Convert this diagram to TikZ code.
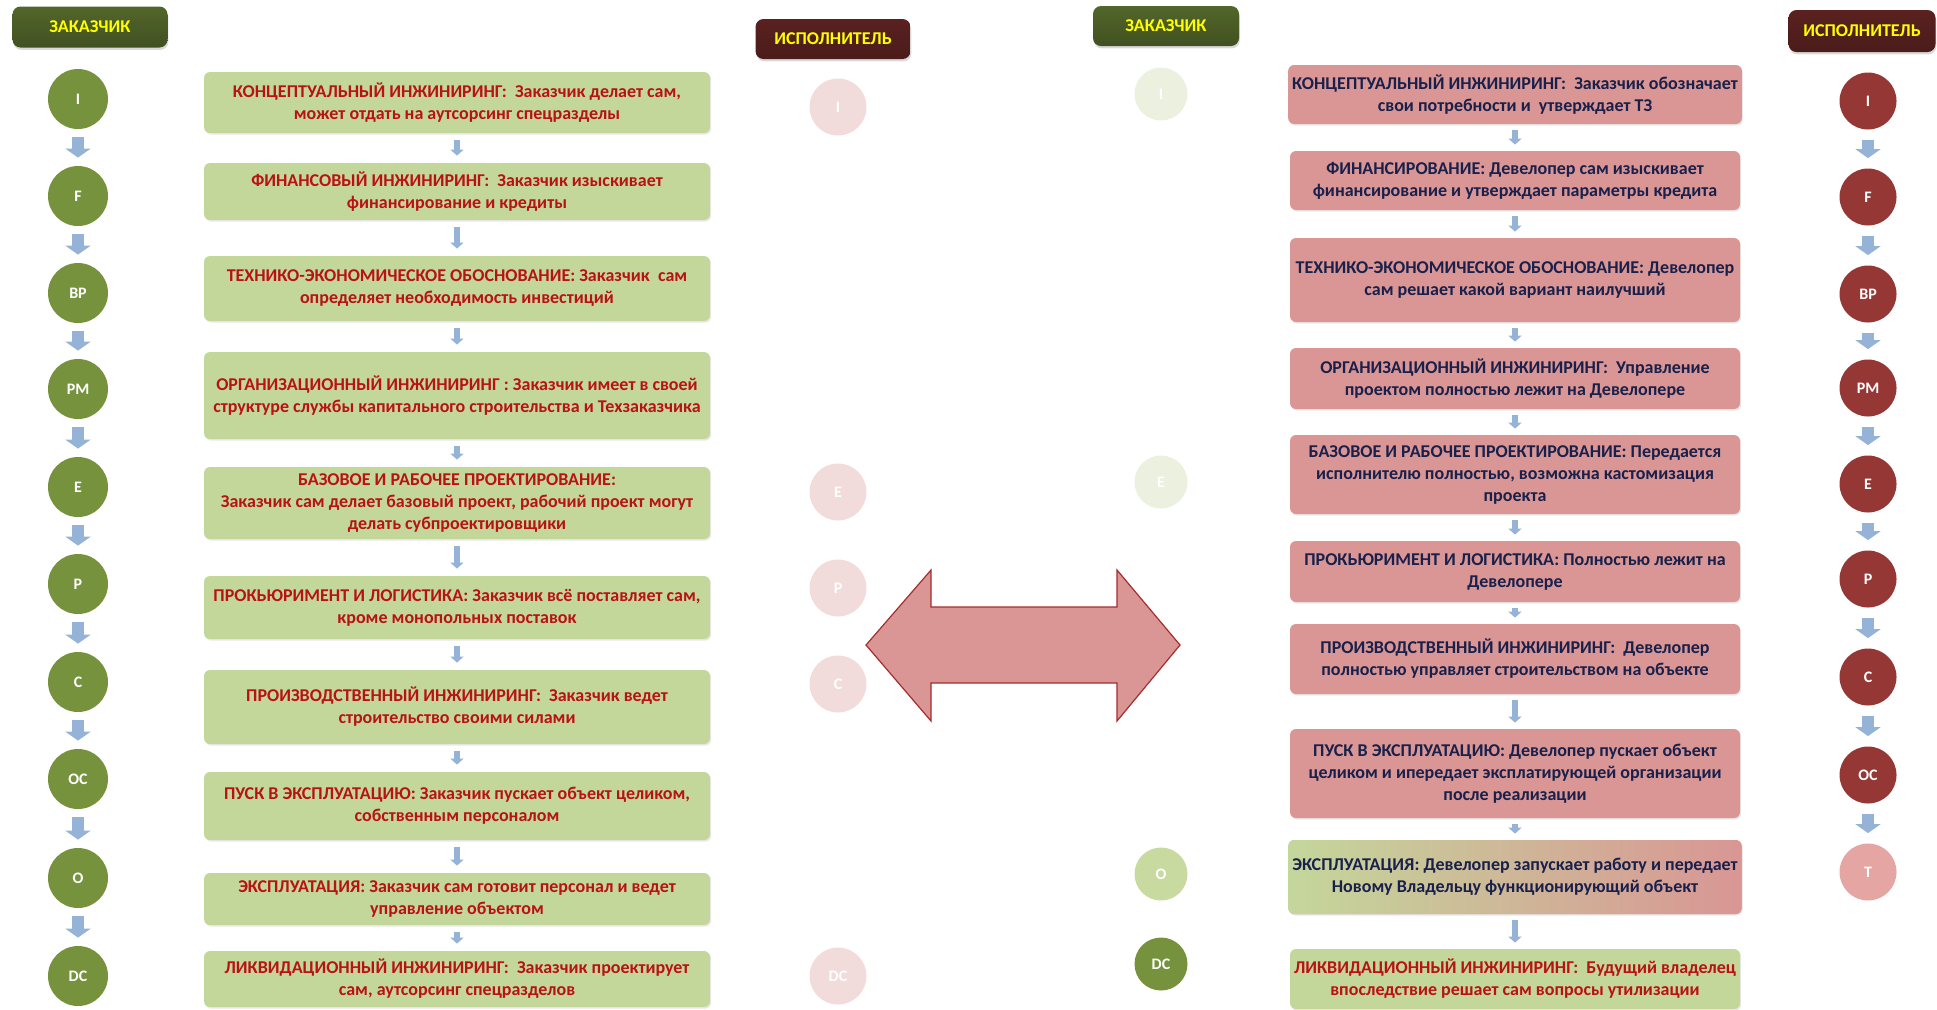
\documentclass[tikz,border=0pt]{standalone}
\usepackage{fontspec}
\setmainfont{Carlito}
\usetikzlibrary{arrows.meta,shadows}

\definecolor{boxgreen}{RGB}{196,215,155}
\definecolor{boxpink}{RGB}{217,150,148}
\definecolor{txtred}{RGB}{185,18,18}
\definecolor{txtnavy}{RGB}{25,32,75}
\definecolor{dotgreen}{RGB}{118,146,60}
\definecolor{dotred}{RGB}{149,55,53}
\definecolor{fadegreen}{RGB}{235,241,222}
\definecolor{fadepink}{RGB}{242,220,219}
\definecolor{softgreen}{RGB}{200,218,160}
\definecolor{softpink}{RGB}{229,165,163}
\definecolor{flowblue}{RGB}{149,179,215}
\definecolor{hdryellow}{RGB}{255,255,0}
\definecolor{arrowedge}{RGB}{165,45,45}

\begin{document}
\begin{tikzpicture}[x=0.5pt, y=-0.5pt, every node/.style={align=center},
  hdr/.style={rounded corners=4pt, text=hdryellow, font=\bfseries\fontsize{9}{11}\selectfont,
    drop shadow={opacity=0.3, shadow xshift=0.4pt, shadow yshift=-1.2pt}},
  hdrgreen/.style={hdr, top color=dotgreen!70!black, middle color=dotgreen, bottom color=dotgreen!55!black},
  hdrred/.style={hdr, top color=dotred!60!black, middle color=dotred!90!black, bottom color=dotred!50!black},
  dot/.style={circle, minimum size=30pt, inner sep=0pt, text=white, font=\bfseries\fontsize{8}{8}\selectfont},
  lbox/.style={rounded corners=3pt, fill=boxgreen, text=txtred, minimum width=253pt, inner sep=2pt,
    font=\bfseries\fontsize{9}{11}\selectfont, drop shadow={opacity=0.18, shadow xshift=0.6pt, shadow yshift=-0.8pt}},
  rbox/.style={lbox, fill=boxpink, text=txtnavy, minimum width=225pt},
  flow/.style={flowblue, line width=6pt, -{Triangle[width=12.5pt,length=4.5pt]}, shorten <=4pt, shorten >=4pt},
  link/.style={flowblue, line width=3pt, -{Triangle[width=6.5pt,length=3pt]}, shorten <=3.5pt, shorten >=3.5pt},
  bigarrow/.style={fill=boxpink, draw=arrowedge, line width=0.6pt}]
  \useasboundingbox (0,0) rectangle (1937,1009);

  % Headers
  \node[hdrgreen, minimum width=77.5pt, minimum height=20.5pt] (zakL) at (90,27) {ЗАКАЗЧИК};
  \node[hdrred, minimum width=77.5pt, minimum height=20pt] (ispL) at (833,39) {ИСПОЛНИТЕЛЬ};
  \node[hdrgreen, minimum width=73pt, minimum height=20pt] (zakR) at (1166,26) {ЗАКАЗЧИК};
  \node[hdrred, minimum width=73.5pt, minimum height=21pt] (ispR) at (1862,31) {ИСПОЛНИТЕЛЬ};

  % Left: customer stages
  \node[dot, fill=dotgreen] (lI) at (78,99) {I};
  \node[dot, fill=dotgreen] (lF) at (78,196) {F};
  \node[dot, fill=dotgreen] (lBP) at (78,293) {BP};
  \node[dot, fill=dotgreen] (lPM) at (78,389) {PM};
  \node[dot, fill=dotgreen] (lE) at (78,487) {E};
  \node[dot, fill=dotgreen] (lP) at (78,584) {P};
  \node[dot, fill=dotgreen] (lC) at (78,682) {C};
  \node[dot, fill=dotgreen] (lOC) at (78,779) {OC};
  \node[dot, fill=dotgreen] (lO) at (78,878) {O};
  \node[dot, fill=dotgreen] (lDC) at (78,976) {DC};

  % Left: faded contractor stages
  \node[dot, minimum size=28.5pt, fill=fadepink] (liI) at (838,107) {I};
  \node[dot, minimum size=28.5pt, fill=fadepink] (liE) at (838,492) {E};
  \node[dot, minimum size=28.5pt, fill=fadepink] (liP) at (838,588) {P};
  \node[dot, minimum size=28.5pt, fill=fadepink] (liC) at (838,684) {C};
  \node[dot, minimum size=28.5pt, fill=fadepink] (liDC) at (838,976) {DC};

  % Left boxes
  \node[lbox, minimum height=30.5pt] (lb1) at (457,102.5) {КОНЦЕПТУАЛЬНЫЙ ИНЖИНИРИНГ:~ Заказчик делает сам,\\может отдать на аутсорсинг спецразделы};
  \node[lbox, minimum height=28.5pt] (lb2) at (457,191.5) {ФИНАНСОВЫЙ ИНЖИНИРИНГ:~ Заказчик изыскивает\\финансирование и кредиты};
  \node[lbox, minimum height=32.5pt] (lb3) at (457,288.5) {ТЕХНИКО-ЭКОНОМИЧЕСКОЕ ОБОСНОВАНИЕ: Заказчик~ сам\\определяет необходимость инвестиций};
  \node[lbox, minimum height=43.5pt] (lb4) at (457,395.5) {ОРГАНИЗАЦИОННЫЙ ИНЖИНИРИНГ : Заказчик имеет в своей\\структуре службы капитального строительства и Техзаказчика};
  \node[lbox, minimum height=36pt] (lb5) at (457,503) {БАЗОВОЕ И РАБОЧЕЕ ПРОЕКТИРОВАНИЕ:\\Заказчик сам делает базовый проект, рабочий проект могут\\делать субпроектировщики};
  \node[lbox, minimum height=31.5pt] (lb6) at (457,607.5) {ПРОКЬЮРИМЕНТ И ЛОГИСТИКА: Заказчик всё поставляет сам,\\кроме монопольных поставок};
  \node[lbox, minimum height=37pt] (lb7) at (457,707) {ПРОИЗВОДСТВЕННЫЙ ИНЖИНИРИНГ:~ Заказчик ведет\\строительство своими силами};
  \node[lbox, minimum height=34pt] (lb8) at (457,806) {ПУСК В ЭКСПЛУАТАЦИЮ: Заказчик пускает объект целиком,\\собственным персоналом};
  \node[lbox, minimum height=26pt] (lb9) at (457,899) {ЭКСПЛУАТАЦИЯ: Заказчик сам готовит персонал и ведет\\управление объектом};
  \node[lbox, minimum height=28pt] (lb10) at (457,979) {ЛИКВИДАЦИОННЫЙ ИНЖИНИРИНГ:~ Заказчик проектирует\\сам, аутсорсинг спецразделов};

  % Swap arrow
  \draw[bigarrow] (866,645) -- (931,570) -- (931,607) -- (1117,607) -- (1117,570) -- (1180,645)
    -- (1117,721) -- (1117,683) -- (931,683) -- (931,721) -- cycle;

  % Right: faded customer stages
  \node[dot, minimum size=26.5pt, fill=fadegreen] (rzI) at (1161,94) {I};
  \node[dot, minimum size=26.5pt, fill=fadegreen] (rzE) at (1161,482) {E};
  \node[dot, minimum size=26.5pt, fill=softgreen] (rzO) at (1161,874) {O};
  \node[dot, minimum size=26.5pt, fill=dotgreen] (rzDC) at (1161,964) {DC};

  % Right: contractor stages
  \node[dot, minimum size=28.5pt, fill=dotred] (rI) at (1868,101) {I};
  \node[dot, minimum size=28.5pt, fill=dotred] (rF) at (1868,197) {F};
  \node[dot, minimum size=28.5pt, fill=dotred] (rBP) at (1868,294) {BP};
  \node[dot, minimum size=28.5pt, fill=dotred] (rPM) at (1868,388) {PM};
  \node[dot, minimum size=28.5pt, fill=dotred] (rE) at (1868,484) {E};
  \node[dot, minimum size=28.5pt, fill=dotred] (rP) at (1868,579) {P};
  \node[dot, minimum size=28.5pt, fill=dotred] (rC) at (1868,677) {C};
  \node[dot, minimum size=28.5pt, fill=dotred] (rOC) at (1868,775) {OC};
  \node[dot, minimum size=28.5pt, fill=softpink] (rT) at (1868,872) {T};

  % Right boxes
  \node[rbox, minimum height=29.5pt] (rb1) at (1515,94.5) {КОНЦЕПТУАЛЬНЫЙ ИНЖИНИРИНГ:~ Заказчик обозначает\\свои потребности и~ утверждает ТЗ};
  \node[rbox, minimum height=29.5pt] (rb2) at (1515,180.5) {ФИНАНСИРОВАНИЕ: Девелопер сам изыскивает\\финансирование и утверждает параметры кредита};
  \node[rbox, minimum height=42pt] (rb3) at (1515,280) {ТЕХНИКО-ЭКОНОМИЧЕСКОЕ ОБОСНОВАНИЕ: Девелопер\\сам решает какой вариант наилучший};
  \node[rbox, minimum height=30.5pt] (rb4) at (1515,378.5) {ОРГАНИЗАЦИОННЫЙ ИНЖИНИРИНГ:~ Управление\\проектом полностью лежит на Девелопере};
  \node[rbox, minimum height=39.5pt] (rb5) at (1515,474.5) {БАЗОВОЕ И РАБОЧЕЕ ПРОЕКТИРОВАНИЕ: Передается\\исполнителю полностью, возможна кастомизация\\проекта};
  \node[rbox, minimum height=30.5pt] (rb6) at (1515,571.5) {ПРОКЬЮРИМЕНТ И ЛОГИСТИКА: Полностью лежит на\\Девелопере};
  \node[rbox, minimum height=35pt] (rb7) at (1515,659) {ПРОИЗВОДСТВЕННЫЙ ИНЖИНИРИНГ:~ Девелопер\\полностью управляет строительством на объекте};
  \node[rbox, minimum height=44.5pt] (rb8) at (1515,773.5) {ПУСК В ЭКСПЛУАТАЦИЮ: Девелопер пускает объект\\целиком и ипередает эксплатирующей организации\\после реализации};
  \node[rbox, minimum height=37pt, left color=boxgreen, right color=boxpink] (rb9) at (1515,877) {ЭКСПЛУАТАЦИЯ: Девелопер запускает работу и передает\\Новому Владельцу функционирующий объект};
  \node[rbox, minimum height=30pt, fill=boxgreen, text=txtred] (rb10) at (1515,979) {ЛИКВИДАЦИОННЫЙ ИНЖИНИРИНГ:~ Будущий владелец\\впоследствие решает сам вопросы утилизации};

  % Arrows
  \draw[flow] (lI) -- (lF);
  \draw[flow] (lF) -- (lBP);
  \draw[flow] (lBP) -- (lPM);
  \draw[flow] (lPM) -- (lE);
  \draw[flow] (lE) -- (lP);
  \draw[flow] (lP) -- (lC);
  \draw[flow] (lC) -- (lOC);
  \draw[flow] (lOC) -- (lO);
  \draw[flow] (lO) -- (lDC);

  \draw[link] (lb1) -- (lb2);
  \draw[link] (lb2) -- (lb3);
  \draw[link] (lb3) -- (lb4);
  \draw[link] (lb4) -- (lb5);
  \draw[link] (lb5) -- (lb6);
  \draw[link] (lb6) -- (lb7);
  \draw[link] (lb7) -- (lb8);
  \draw[link] (lb8) -- (lb9);
  \draw[link] (lb9) -- (lb10);

  \draw[link, shorten <=3pt, shorten >=3pt] (rb1) -- (rb2);
  \draw[link, shorten <=3pt, shorten >=3pt] (rb2) -- (rb3);
  \draw[link, shorten <=3pt, shorten >=3pt] (rb3) -- (rb4);
  \draw[link, shorten <=3pt, shorten >=3pt] (rb4) -- (rb5);
  \draw[link, shorten <=3pt, shorten >=3pt] (rb5) -- (rb6);
  \draw[link, shorten <=3pt, shorten >=3pt] (rb6) -- (rb7);
  \draw[link, shorten <=3pt, shorten >=3pt] (rb7) -- (rb8);
  \draw[link, shorten <=3pt, shorten >=3pt] (rb8) -- (rb9);
  \draw[link, shorten <=3pt, shorten >=3pt] (rb9) -- (rb10);

  \draw[flow, shorten <=5pt, shorten >=5pt] (rI) -- (rF);
  \draw[flow, shorten <=5pt, shorten >=5pt] (rF) -- (rBP);
  \draw[flow, shorten <=5pt, shorten >=5pt] (rBP) -- (rPM);
  \draw[flow, shorten <=5pt, shorten >=5pt] (rPM) -- (rE);
  \draw[flow, shorten <=5pt, shorten >=5pt] (rE) -- (rP);
  \draw[flow, shorten <=5pt, shorten >=5pt] (rP) -- (rC);
  \draw[flow, shorten <=5pt, shorten >=5pt] (rC) -- (rOC);
  \draw[flow, shorten <=5pt, shorten >=5pt] (rOC) -- (rT);
\end{tikzpicture}
\end{document}
